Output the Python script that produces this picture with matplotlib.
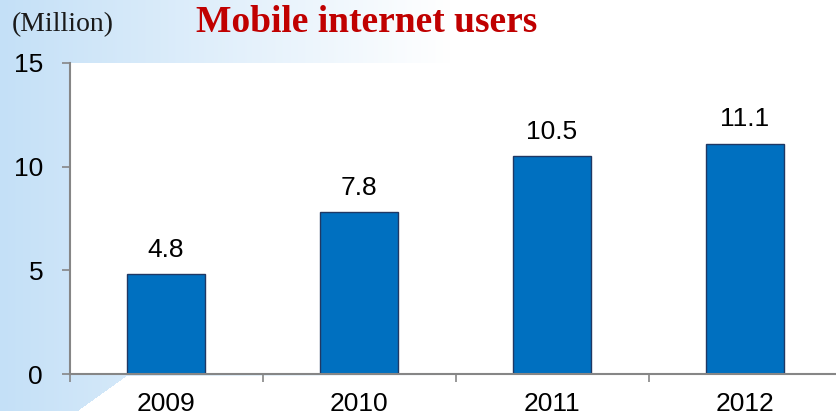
import matplotlib.pyplot as plt
import numpy as np

years = ["2009", "2010", "2011", "2012"]
users = [4.8, 7.8, 10.5, 11.1]
y_ticks = [0, 5, 10, 15]

W, H = 836, 420
fig = plt.figure(figsize=(W / 100, H / 100), dpi=100)

# light blue slide background, fading to white towards the right
xx, yy = np.meshgrid(np.arange(W), np.arange(H))
alpha = np.clip(1 - xx / 450.0, 0, 1)
alpha[yy > 410] = 0
alpha[(yy > 375) & (xx > 127 - (yy - 375) * 1.4)] = 0
bg = np.ones((H, W, 3))
base = np.array([196, 224, 247]) / 255.0
for c in range(3):
    bg[:, :, c] = 1 - alpha * (1 - base[c])
bg_ax = fig.add_axes([0, 0, 1, 1], zorder=0)
bg_ax.imshow(bg, aspect="auto", interpolation="bilinear")
bg_ax.axis("off")

ax = fig.add_axes([69.5 / W, 46 / H, 772 / W, 311 / H], zorder=1)
ax.set_facecolor("white")
x = np.arange(len(years))
ax.bar(x, users, width=0.4, color="#0070C0", edgecolor="#1F3864", linewidth=1, zorder=2)
for xi, v in zip(x, users):
    ax.annotate(f"{v}", (xi, v), xytext=(0, 9), textcoords="offset points",
                ha="center", va="bottom", fontsize=19, family="Liberation Sans")

ax.set_xlim(-0.5, 3.5)
ax.set_ylim(0, 15)
ax.set_yticks(y_ticks)
ax.set_xticks(x)
ax.set_xticklabels(years)
ax.set_xticks(np.arange(-0.5, 4, 1), minor=True)
ax.tick_params(axis="x", which="major", length=0, pad=13, labelsize=19)
ax.tick_params(axis="x", which="minor", length=6, color="#868686", width=1.2)
ax.tick_params(axis="y", length=6, color="#868686", width=1.2, pad=13, labelsize=19)
for lab in ax.get_xticklabels() + ax.get_yticklabels():
    lab.set_family("Liberation Sans")
for s in ["top", "right"]:
    ax.spines[s].set_visible(False)
for s in ["left", "bottom"]:
    ax.spines[s].set_color("#868686")
    ax.spines[s].set_linewidth(1.5)

fig.text(12 / W, 1 - 25 / H, "(Million)", family="Liberation Serif", fontsize=20,
         va="center", ha="left", color="#1a1a1a")
fig.text(367 / W, 1 - 23 / H, "Mobile internet users", family="Liberation Serif",
         fontsize=27, fontweight="bold", color="#C00000", va="center", ha="center")

fig.savefig("out.png", dpi=100)
